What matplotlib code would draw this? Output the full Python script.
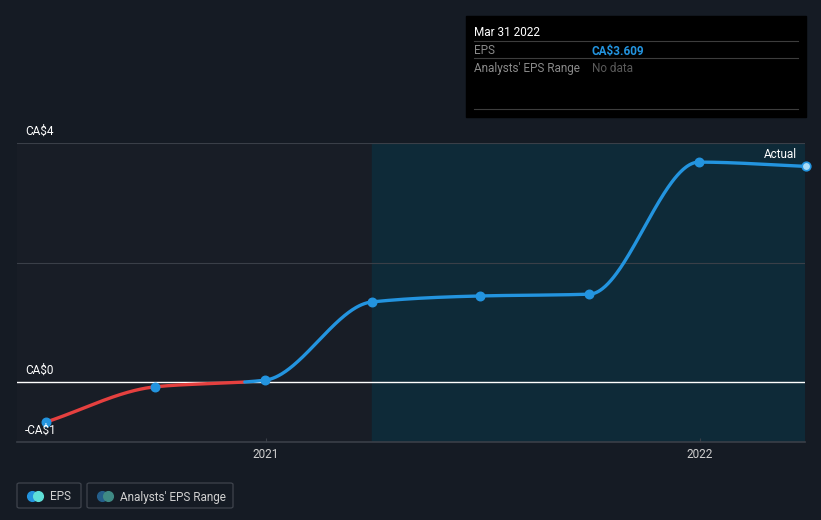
import matplotlib
import matplotlib.pyplot as plt
import matplotlib.dates as mdates
import numpy as np
import pandas as pd
from matplotlib.patches import FancyBboxPatch, Rectangle

matplotlib.use("Agg")
plt.rcParams["font.family"] = ["Roboto", "DejaVu Sans"]

W, H = 821, 520
BG = "#151b24"

dates = ["2020-06-30", "2020-09-30", "2020-12-31", "2021-03-31",
         "2021-06-30", "2021-09-30", "2021-12-31", "2022-03-31"]
eps = [-0.67, -0.08, 0.03, 1.34, 1.44, 1.47, 3.68, 3.609]
y_ticks = [4, 0, -1]
y_labels = ["CA$4", "CA$0", "-CA$1"]
x_ticks = ["2021-01-01", "2022-01-01"]
x_labels = ["2021", "2022"]
forecast_start = "2021-03-31"


def monotone_cubic(x, y, xs):
    """Fritsch-Carlson monotone cubic interpolation."""
    x = np.asarray(x, float)
    y = np.asarray(y, float)
    h = np.diff(x)
    d = np.diff(y) / h
    m = np.zeros_like(y)
    m[0], m[-1] = d[0], d[-1]
    for i in range(1, len(y) - 1):
        if d[i - 1] * d[i] <= 0:
            m[i] = 0
        else:
            w1 = 2 * h[i] + h[i - 1]
            w2 = h[i] + 2 * h[i - 1]
            m[i] = (w1 + w2) / (w1 / d[i - 1] + w2 / d[i])
    idx = np.clip(np.searchsorted(x, xs) - 1, 0, len(x) - 2)
    t = (xs - x[idx]) / h[idx]
    h00 = 2 * t**3 - 3 * t**2 + 1
    h10 = t**3 - 2 * t**2 + t
    h01 = -2 * t**3 + 3 * t**2
    h11 = t**3 - t**2
    return (h00 * y[idx] + h10 * h[idx] * m[idx]
            + h01 * y[idx + 1] + h11 * h[idx] * m[idx + 1])


fig = plt.figure(figsize=(W / 100, H / 100), dpi=100, facecolor=BG)

x0, x1, ytop, ybot = 17, 805, 143, 442
ax = fig.add_axes([x0 / W, 1 - ybot / H, (x1 - x0) / W, (ybot - ytop) / H])
ax.set_facecolor(BG)
for s in ax.spines.values():
    s.set_visible(False)

xd = mdates.date2num(pd.to_datetime(dates))
t2021 = mdates.date2num(pd.Timestamp("2021-01-01"))
px_per_day = 434 / 365
ax.set_xlim(t2021 - (266 - x0) / px_per_day, t2021 + (x1 - 266) / px_per_day)
ax.set_ylim(-1.004, 4.0)

fs = mdates.date2num(pd.Timestamp(forecast_start))
xl = ax.get_xlim()
ax.axvspan(xl[0], fs, color="#181d26", zorder=0)
ax.axvspan(fs, xl[1], color="#0e2a38", zorder=0)

for v in [4, 2]:
    ax.axhline(v, color="#3a3f48", lw=0.8, zorder=1)
ax.axhline(-1.004, color="#3a3f48", lw=1.2, zorder=1, clip_on=False)
ax.axhline(0, color="white", lw=1.0, zorder=2)

xs = np.linspace(xd[0], xd[-1], 800)
ys = monotone_cubic(xd, eps, xs)
neg = ys < 0
for mask, col in [(neg, "#e5403f"), (~neg, "#2394df")]:
    yy = np.where(mask, ys, np.nan)
    ax.plot(xs, yy, color=col, lw=2.4, solid_capstyle="round", zorder=3)

ax.scatter(xd[:-1], eps[:-1], s=38, color="#2394df", zorder=4)
ax.scatter(xd[-1:], eps[-1:], s=38, color="#a8dcf8", edgecolor="#2394df",
           lw=1.2, zorder=4, clip_on=False)

ax.set_xticks(mdates.date2num(pd.to_datetime(x_ticks)))
ax.set_xticklabels(x_labels)
ax.tick_params(axis="x", colors="#d0d0d0", labelsize=8.5, length=3,
               color="#3a3f48", direction="in", pad=4)
ax.set_yticks([])

for v, lab in zip(y_ticks, y_labels):
    ypix = 382 - v * 59.75
    fig.text(25 / W, 1 - (ypix - 5) / H, lab, color="white", fontsize=8.5,
             va="bottom", ha="left")

fig.text(797 / W, 1 - 154 / H, "Actual", color="white", fontsize=8.5,
         ha="right", va="center")

# tooltip box
fig.patches.append(Rectangle((466 / W, 1 - 117 / H), 340 / W, 101 / H,
                             transform=fig.transFigure, color="black", zorder=5))
for yl in [41, 58, 109]:
    fig.add_artist(plt.Line2D([474 / W, 798 / W], [1 - yl / H] * 2,
                              color="#3d3d3d", lw=0.8, zorder=6))
fig.text(474 / W, 1 - 31 / H, "Mar 31 2022", color="white", fontsize=8.5,
         va="center_baseline", zorder=7)
fig.text(474 / W, 1 - 49.5 / H, "EPS", color="#8a8a8a", fontsize=8.5,
         va="center_baseline", zorder=7)
fig.text(592 / W, 1 - 49.5 / H, "CA$3.609", color="#2394df", fontsize=8.5,
         fontweight="bold", va="center_baseline", zorder=7)
fig.text(474 / W, 1 - 67 / H, "Analysts' EPS Range", color="#8a8a8a",
         fontsize=8.5, va="center_baseline", zorder=7)
fig.text(592 / W, 1 - 67 / H, "No data", color="#5a5a5a", fontsize=8.5,
         va="center_baseline", zorder=7)

# legend
for (lx, lw, label, c1, c2) in [(17, 64, "EPS", "#2394df", "#5ee0d8"),
                                (87, 146, "Analysts' EPS Range", "#245e8a", "#3f8a84")]:
    fig.patches.append(FancyBboxPatch((lx / W, 1 - 508 / H), lw / W, 25 / H,
                                      boxstyle="round,pad=0,rounding_size=0.003",
                                      transform=fig.transFigure, fc="none",
                                      ec="#3f444d", lw=0.9))
    cy = 1 - 495.5 / H
    fig.add_artist(plt.Line2D([(lx + 15) / W], [cy], marker="o", ms=7,
                              color=c1, lw=0, transform=fig.transFigure))
    fig.add_artist(plt.Line2D([(lx + 21) / W], [cy], marker="o", ms=7,
                              color=c2, lw=0, transform=fig.transFigure))
    fig.text((lx + 33) / W, cy, label, color="#d0d0d0", fontsize=8.5,
             va="center_baseline")

fig.savefig("out.png", dpi=100, facecolor=BG)
plt.close(fig)
